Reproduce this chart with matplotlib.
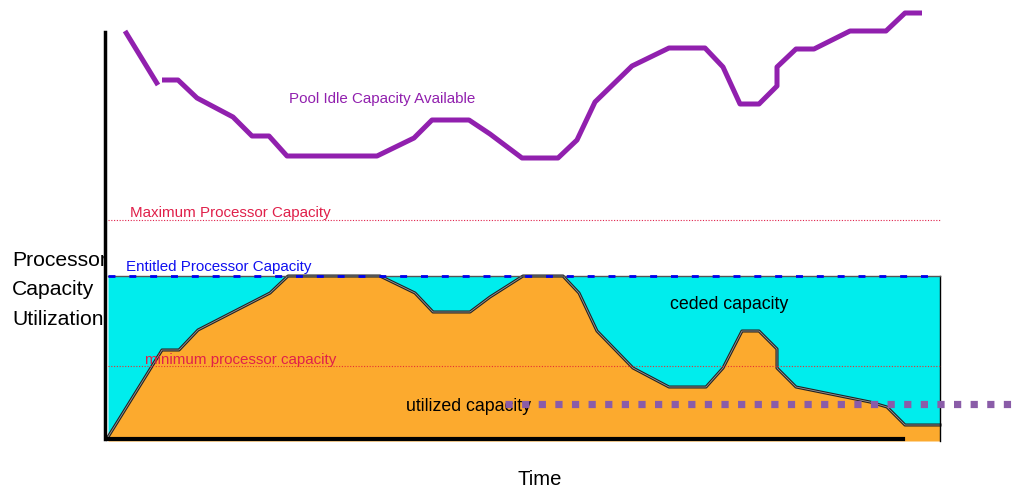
import numpy as np
import matplotlib.pyplot as plt

plt.rcParams['font.family'] = ['Liberation Sans', 'DejaVu Sans']

# time axis (arbitrary units) and capacity levels
entitled = 163
maximum = 219
minimum = 73
pool_dotted = 35

# utilized capacity over time
t_used = [0, 54, 71, 90, 162, 180, 272, 307, 325, 362, 382, 415, 455, 471, 489,
          525, 561, 598, 615, 634, 651, 669, 669, 688, 762, 779, 797, 832]
cap_used = [2, 89, 89, 109, 146, 163, 163, 146, 127, 127, 142, 163, 163, 146, 108,
            71, 52, 52, 71, 108, 108, 90, 71, 52, 37, 32, 14, 14]

# pool idle capacity available (two pieces)
t_idle1 = [17, 50]
cap_idle1 = [408, 354]
t_idle2 = [54, 70, 89, 125, 144, 161, 179, 269, 306, 324, 361, 382, 414, 450, 469,
           487, 524, 561, 597, 615, 632, 651, 669, 669, 688, 706, 742, 778, 797, 814]
cap_idle2 = [359, 359, 341, 322, 303, 303, 283, 283, 301, 319, 319, 305, 281, 281, 299,
             337, 373, 391, 391, 372, 335, 335, 353, 372, 390, 390, 408, 408, 426, 426]

cyan = '#00EDED'
orange = '#FCAA2E'
purple = '#9120AE'
crimson = '#E0204A'

fig = plt.figure(figsize=(10.13, 4.89), dpi=100)
ax = fig.add_axes([0, 0, 1, 1])
ax.set_xlim(-108, 905)
ax.set_ylim(-49, 440)
ax.axis('off')

t_used = np.array(t_used)
cap_used = np.array(cap_used)

# fills
ax.fill_between(t_used, cap_used, entitled, color=cyan, lw=0, zorder=1)
ax.fill_between(t_used, -2, cap_used, color=orange, lw=0, zorder=2)
ax.plot(t_used, cap_used, color='#222222', lw=2.2, zorder=3)
ax.plot(t_used, cap_used, color='#999999', lw=0.6, zorder=3)
ax.plot([t_used[-1], t_used[-1]], [-2, entitled], color='black', lw=1, zorder=3)

# reference lines
ax.plot([0, 832], [entitled, entitled], color='#555555', lw=1, zorder=3)
ax.plot([0, 832], [entitled, entitled], color='#0000EE', lw=2,
        dashes=(2.5, 5), zorder=4)
ax.plot([0, 832], [maximum, maximum], color=crimson, lw=0.8, ls=(0, (1, 1.5)), zorder=4)
ax.plot([0, 832], [minimum, minimum], color='#E83030', lw=0.8, ls=(0, (1, 1.5)), zorder=4)
ax.plot([397, 905], [pool_dotted, pool_dotted], color='#8A5CA8', lw=5.2,
        ls=(0, (1, 1.3)), dash_capstyle='butt', zorder=5)

# axes lines
ax.plot([-3, -3], [0, 407], color='black', lw=2.5, zorder=6)
ax.plot([0, 795], [0, 0], color='black', lw=3, zorder=6)

# pool idle line
ax.plot(t_idle1, cap_idle1, color=purple, lw=3.6, solid_capstyle='butt', zorder=5)
ax.plot(t_idle2, cap_idle2, color=purple, lw=3.6, solid_capstyle='butt', zorder=5)

# labels
ax.text(181, 341, 'Pool Idle Capacity Available', color=purple, fontsize=10.9,
        va='center', ha='left')
ax.text(22, 227, 'Maximum Processor Capacity', color=crimson, fontsize=10.9,
        va='center', ha='left')
ax.text(18, 173, 'Entitled Processor Capacity', color='#1010F0', fontsize=10.9,
        va='center', ha='left')
ax.text(37, 80, 'minimum processor capacity', color=crimson, fontsize=10.9,
        va='center', ha='left')
ax.text(562, 135, 'ceded capacity', color='black', fontsize=12.8,
        va='center', ha='left')
ax.text(298, 33, 'utilized capacity', color='black', fontsize=12.8,
        va='center', ha='left')
ax.text(432, -39.5, 'Time', color='black', fontsize=14.6, va='center', ha='center')
ax.text(-96, 150, 'Processor\nCapacity\nUtilization', color='black', fontsize=15.2,
        va='center', ha='left', linespacing=1.7)

fig.savefig('out.png', dpi=100)
